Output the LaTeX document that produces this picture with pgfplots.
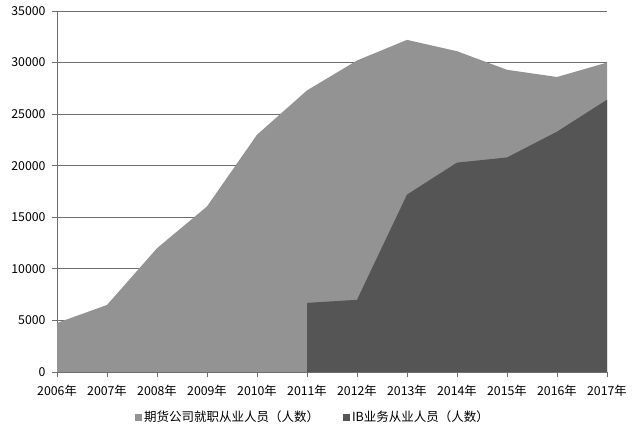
\documentclass[border=0pt]{standalone}
\usepackage{fontspec}
\setmainfont{Noto Sans CJK SC}
\usepackage{pgfplots}
\pgfplotsset{compat=1.18}

\definecolor{lightarea}{RGB}{147,147,147}
\definecolor{darkarea}{RGB}{85,85,85}
\definecolor{gridc}{RGB}{110,110,110}

\begin{document}
\begin{tikzpicture}
\path[use as bounding box] (0,0) rectangle (634bp,434bp);
\begin{axis}[
    at={(57bp,62bp)}, anchor=south west,
    scale only axis,
    width=550bp, height=361bp,
    xmin=2006, xmax=2017,
    ymin=0, ymax=35000,
    xtick={2006,2007,...,2017},
    xticklabels={2006年,2007年,2008年,2009年,2010年,2011年,2012年,2013年,2014年,2015年,2016年,2017年},
    ytick={0,5000,...,35000},
    scaled y ticks=false,
    /pgf/number format/assume math mode=true,
    /pgf/number format/1000 sep={},
    axis x line*=bottom,
    axis y line*=left,
    axis line style={gridc, line width=0.8bp, -},
    tick align=outside,
    major tick length=5bp,
    tick style={gridc, line width=0.8bp},
    ymajorgrids=true,
    grid style={gridc, line width=0.8bp},
    tick label style={font=\fontsize{12.3bp}{14bp}\selectfont, text=black},
    xticklabel style={yshift=-5bp},
    yticklabel style={xshift=-3bp},
    legend style={at={(axis description cs:0.4655,-0.1247)}, anchor=center,
        draw=none, fill=none, legend columns=2,
        font=\fontsize{12.5bp}{14bp}\selectfont,
        /tikz/every even column/.append style={column sep=22bp}},
]
\addplot[draw=none, fill=lightarea,
    legend image code/.code={\fill[lightarea] (0bp,-3.5bp) rectangle (7bp,3.5bp);}]
    coordinates {
    (2006,4750)(2007,6500)(2008,12000)(2009,16050)(2010,23000)(2011,27300)
    (2012,30200)(2013,32200)(2014,31100)(2015,29300)(2016,28600)(2017,30000)
    } \closedcycle;
\addlegendentry{期货公司就职从业人员（人数）}
\addplot[draw=none, fill=darkarea,
    legend image code/.code={\fill[darkarea] (0bp,-3.5bp) rectangle (7bp,3.5bp);}]
    coordinates {
    (2011,6700)(2012,7000)(2013,17200)(2014,20300)(2015,20800)(2016,23300)(2017,26400)
    } \closedcycle;
\addlegendentry{IB业务从业人员（人数）}
\end{axis}
\end{tikzpicture}
\end{document}
